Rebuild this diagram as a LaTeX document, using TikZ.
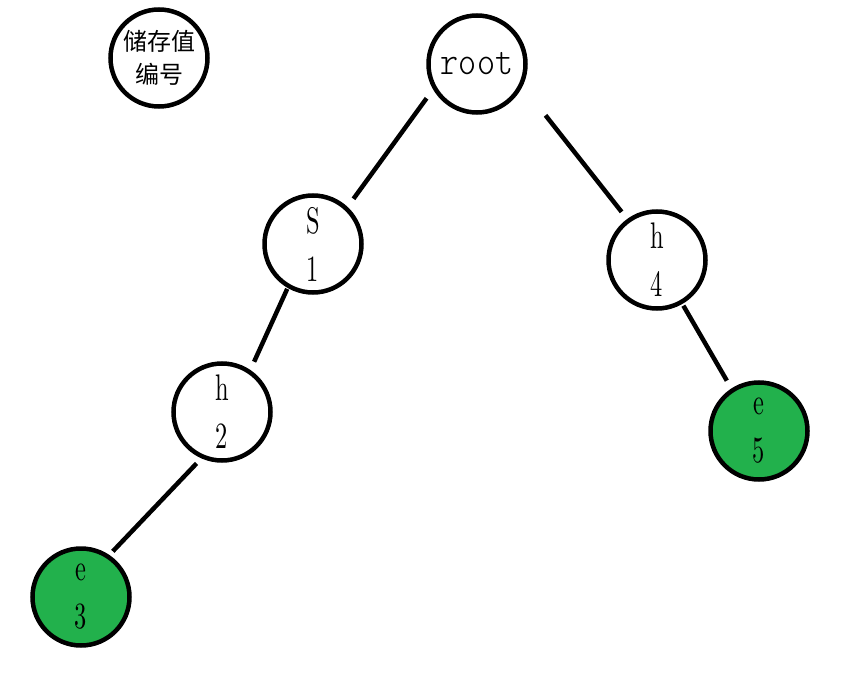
\documentclass[tikz,border=0pt]{standalone}
\usepackage{fontspec}
\newfontfamily\cjk{Noto Sans CJK SC}
\newfontfamily\narrowserif{lmroman10-regular.otf}[FakeStretch=0.66]
\newfontfamily\rootfont{lmmonolt10-regular.otf}[FakeStretch=0.86]
\definecolor{paintgreen}{RGB}{34,177,76}
\tikzset{>=stealth,
  treenode/.style = {circle, draw, line width=4.5pt, minimum size=97pt, inner sep=0pt, align=center, font=\narrowserif\fontsize{37}{48}\selectfont},
  leafnode/.style = {treenode, fill=paintgreen},
  branch/.style = {line width=4.5pt}}

\begin{document}
\begin{tikzpicture}[x=1pt, y=-1pt]
\useasboundingbox (0,0) rectangle (859,687);
\node[treenode, font=\cjk\fontsize{24}{33}\selectfont] (legend) at (159,58) {储存值\\编号};
\node[treenode, font=\rootfont\fontsize{40}{48}\selectfont] (root) at (477,64) {root};
\node[treenode] (s1) at (313,244) {S\\1};
\node[treenode] (h4) at (657,260) {h\\4};
\node[treenode] (h2) at (222,412) {h\\2};
\node[leafnode] (e3) at (81,597) {e\\3};
\node[leafnode] (e5) at (759,431) {e\\5};
\draw[branch, shorten <= 11pt, shorten >= 10pt] (root.210) -- (s1.47);
\draw[branch, shorten <= 37pt, shorten >= 9pt] (root.334) -- (h4.126);
\draw[branch, shorten <= 1pt, shorten >= 9pt] (s1.240) -- (h2.56);
\draw[branch, shorten <= 7pt, shorten >= 5pt] (h2.246) -- (e3.56);
\draw[branch, shorten <= 2pt, shorten >= 9pt] (h4.300) -- (e5.123);
\end{tikzpicture}
\end{document}
